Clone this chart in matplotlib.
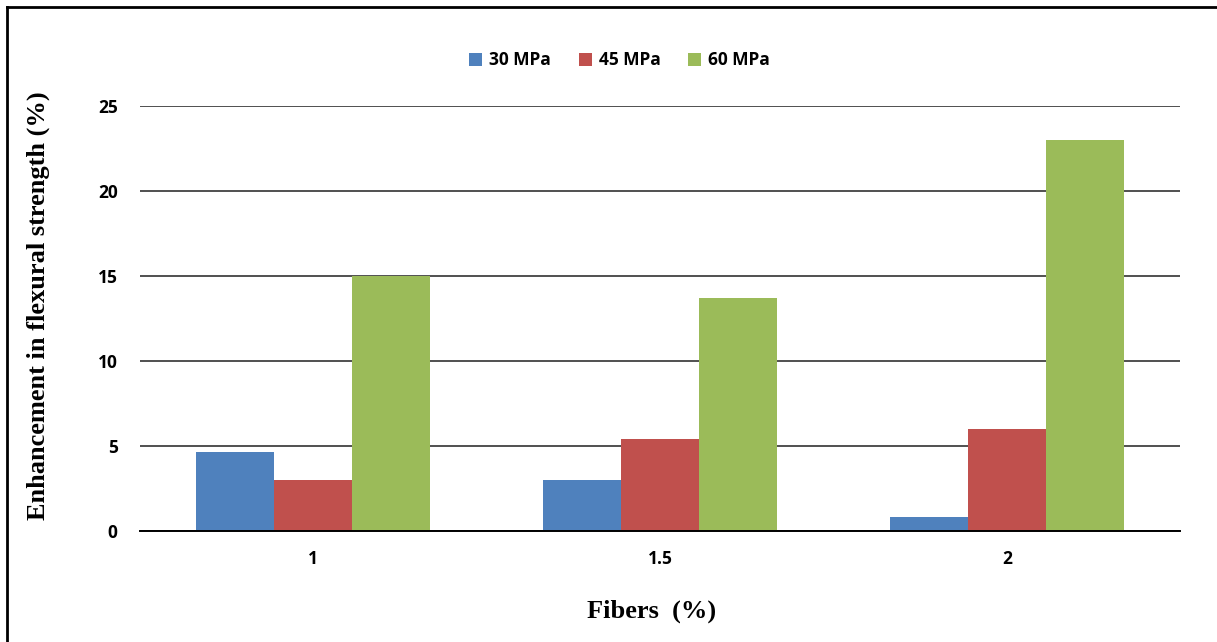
import numpy as np
import matplotlib.pyplot as plt
from matplotlib.lines import Line2D

fibers = ["1", "1.5", "2"]
mpa30 = [4.65, 3.0, 0.8]
mpa45 = [3.0, 5.4, 6.0]
mpa60 = [15.0, 13.7, 23.0]
series_names = ["30 MPa", "45 MPa", "60 MPa"]
colors = ["#4F81BD", "#C0504D", "#9BBB59"]

fig = plt.figure(figsize=(12.17, 6.42), dpi=100)
ax = fig.add_axes([0.115, 0.173, 0.855, 0.662])

x = np.arange(len(fibers))
w = 0.225
for i, (vals, name, c) in enumerate(zip([mpa30, mpa45, mpa60], series_names, colors)):
    ax.bar(x + (i - 1) * w, vals, w, color=c, label=name, zorder=3)

ax.set_xlim(-0.5, 2.5)
ax.set_ylim(0, 25)
ax.set_yticks([0, 5, 10, 15, 20, 25])
ax.set_xticks(x)
ax.set_xticklabels(fibers)
ax.yaxis.grid(True, color="#505050", lw=1.4, zorder=0)
for s in ["left", "right", "top"]:
    ax.spines[s].set_visible(False)
ax.spines["bottom"].set_color("black")
ax.spines["bottom"].set_linewidth(1.4)
ax.spines["bottom"].set_zorder(4)
ax.tick_params(axis="both", length=0, labelsize=12.5)
ax.tick_params(axis="y", pad=16)
ax.tick_params(axis="x", pad=14)
for lab in ax.get_xticklabels() + ax.get_yticklabels():
    lab.set_fontweight("bold")
    lab.set_family("Open Sans")

ax.set_ylabel("Enhancement in flexural strength (%)", family="Liberation Serif",
              fontweight="bold", fontsize=19)
ax.yaxis.set_label_coords(-0.098, 0.53)
ax.yaxis.label.set_va("center")
ax.set_xlabel("Fibers  (%)", family="Liberation Serif", fontweight="bold",
              fontsize=19)
ax.xaxis.set_label_coords(0.492, -0.19)
ax.xaxis.label.set_va("center")

fig.legend(loc="center", bbox_to_anchor=(0.509, 0.906), ncol=3, frameon=False,
           prop={"family": "Open Sans", "weight": "bold", "size": 12.5},
           handlelength=0.75, handleheight=0.75, handletextpad=0.4, columnspacing=1.6)

# outer frame (top and left edges)
fig.add_artist(Line2D([0.0058, 0.0058], [0, 0.989], transform=fig.transFigure, color="black", lw=2))
fig.add_artist(Line2D([0.0058, 1.0], [0.989, 0.989], transform=fig.transFigure, color="black", lw=2))

plt.savefig("out.png", dpi=100)
